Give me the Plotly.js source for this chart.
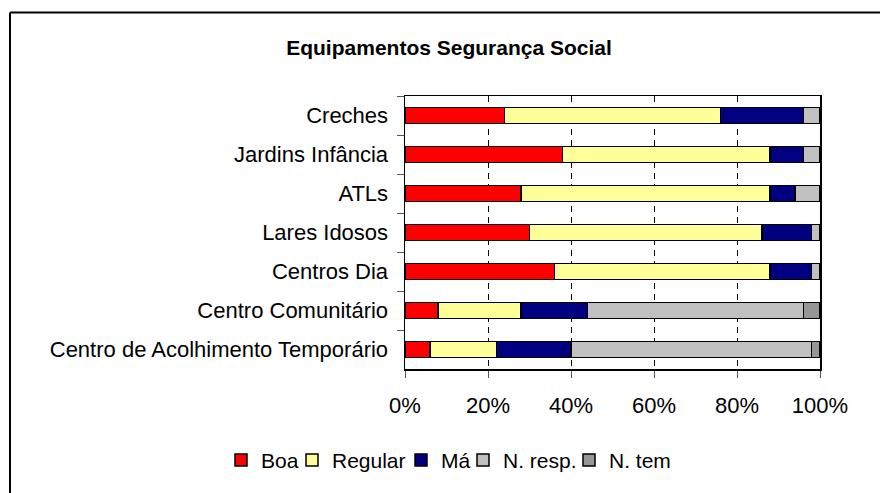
<!DOCTYPE html>
<html>
<head>
<meta charset="utf-8">
<script src="https://cdn.plot.ly/plotly-3.0.1.min.js"></script>
<style>
  html, body { margin: 0; padding: 0; background: #fff; }
  #chart { width: 880px; height: 493px; }
</style>
</head>
<body>
<div id="chart"></div>
<script>
const categories = [
  "Creches",
  "Jardins Infância",
  "ATLs",
  "Lares Idosos",
  "Centros Dia",
  "Centro Comunitário",
  "Centro de Acolhimento Temporário"
];
const boa     = [24, 38, 28, 30, 36,  8,  6];
const regular = [52, 50, 60, 56, 52, 20, 16];
const ma      = [20,  8,  6, 12, 10, 16, 18];
const nResp   = [ 4,  4,  6,  2,  2, 52, 58];
const nTem    = [ 0,  0,  0,  0,  0,  4,  2];
const seriesNames = ["Boa", "Regular", "Má", "N. resp.", "N. tem"];
const seriesColors = ["#FF0000", "#FFFF99", "#000080", "#C0C0C0", "#969696"];
const seriesValues = [boa, regular, ma, nResp, nTem];
const tickValues = [0, 20, 40, 60, 80, 100];
const tickLabels = ["0%", "20%", "40%", "60%", "80%", "100%"];

const FONT = "Liberation Sans, Arial, sans-serif";
// legend entry widths (px) so entries sit as in the reference
const legendEntryWidths = [26, 64, 17, 61, 64];

const traces = seriesNames.map((name, i) => ({
  type: "bar",
  orientation: "h",
  name: name,
  y: categories,
  x: seriesValues[i],
  legendwidth: legendEntryWidths[i],
  marker: { color: seriesColors[i], line: { color: "#000", width: 1.5 } },
  hoverinfo: "x+y+name"
}));

const L = 405, R = 60, T = 96, B = 119;
const W = 880, H = 493;
const pw = W - L - R, ph = H - T - B;
const px = v => (v - L) / pw;
const py = v => (H - B - v) / ph;

const layout = {
  width: W,
  height: H,
  margin: { l: L, r: R, t: T, b: B, pad: 0 },
  paper_bgcolor: "#fff",
  plot_bgcolor: "#fff",
  font: { family: FONT, size: 22, color: "#000" },
  barmode: "stack",
  bargap: 0.58,
  title: {
    text: "<b>Equipamentos Segurança Social</b>",
    font: { family: FONT, size: 21, color: "#000" },
    xref: "container", yref: "container",
    x: 449 / W, y: 1 - 48 / H,
    xanchor: "center", yanchor: "middle"
  },
  xaxis: {
    range: [0, 100],
    tickvals: tickValues,
    ticktext: tickLabels,
    ticks: "outside",
    ticklen: 7,
    tickcolor: "#555",
    tickwidth: 1,
    ticklabelstandoff: 9,
    showgrid: true,
    gridcolor: "#000",
    gridwidth: 1,
    griddash: "6px,5px",
    showline: true,
    linecolor: "#000",
    linewidth: 1.5,
    mirror: true,
    zeroline: false,
    fixedrange: true,
    tickfont: { family: FONT, size: 22, color: "#000" }
  },
  yaxis: {
    type: "category",
    categoryorder: "array",
    categoryarray: categories,
    autorange: "reversed",
    ticks: "outside",
    tickson: "boundaries",
    ticklen: 7,
    tickcolor: "#555",
    tickwidth: 1,
    ticklabelstandoff: 11,
    showgrid: false,
    showline: true,
    linecolor: "#000",
    linewidth: 1.5,
    mirror: true,
    zeroline: false,
    fixedrange: true,
    tickfont: { family: FONT, size: 22, color: "#000" }
  },
  legend: {
    orientation: "h",
    x: px(221), y: py(467),
    xanchor: "left", yanchor: "middle",
    traceorder: "normal",
    font: { family: FONT, size: 21, color: "#000" },
    itemwidth: 30,
    bgcolor: "rgba(0,0,0,0)"
  },
  shapes: [
    { type: "line", xref: "paper", yref: "paper",
      x0: px(10), x1: px(10), y0: py(11), y1: py(520),
      line: { color: "#000", width: 2 } },
    { type: "line", xref: "paper", yref: "paper",
      x0: px(10), x1: px(900), y0: py(11), y1: py(11),
      line: { color: "#000", width: 2 } }
  ],
  showlegend: true
};

Plotly.newPlot("chart", traces, layout, { displayModeBar: false, staticPlot: true });
</script>
</body>
</html>
